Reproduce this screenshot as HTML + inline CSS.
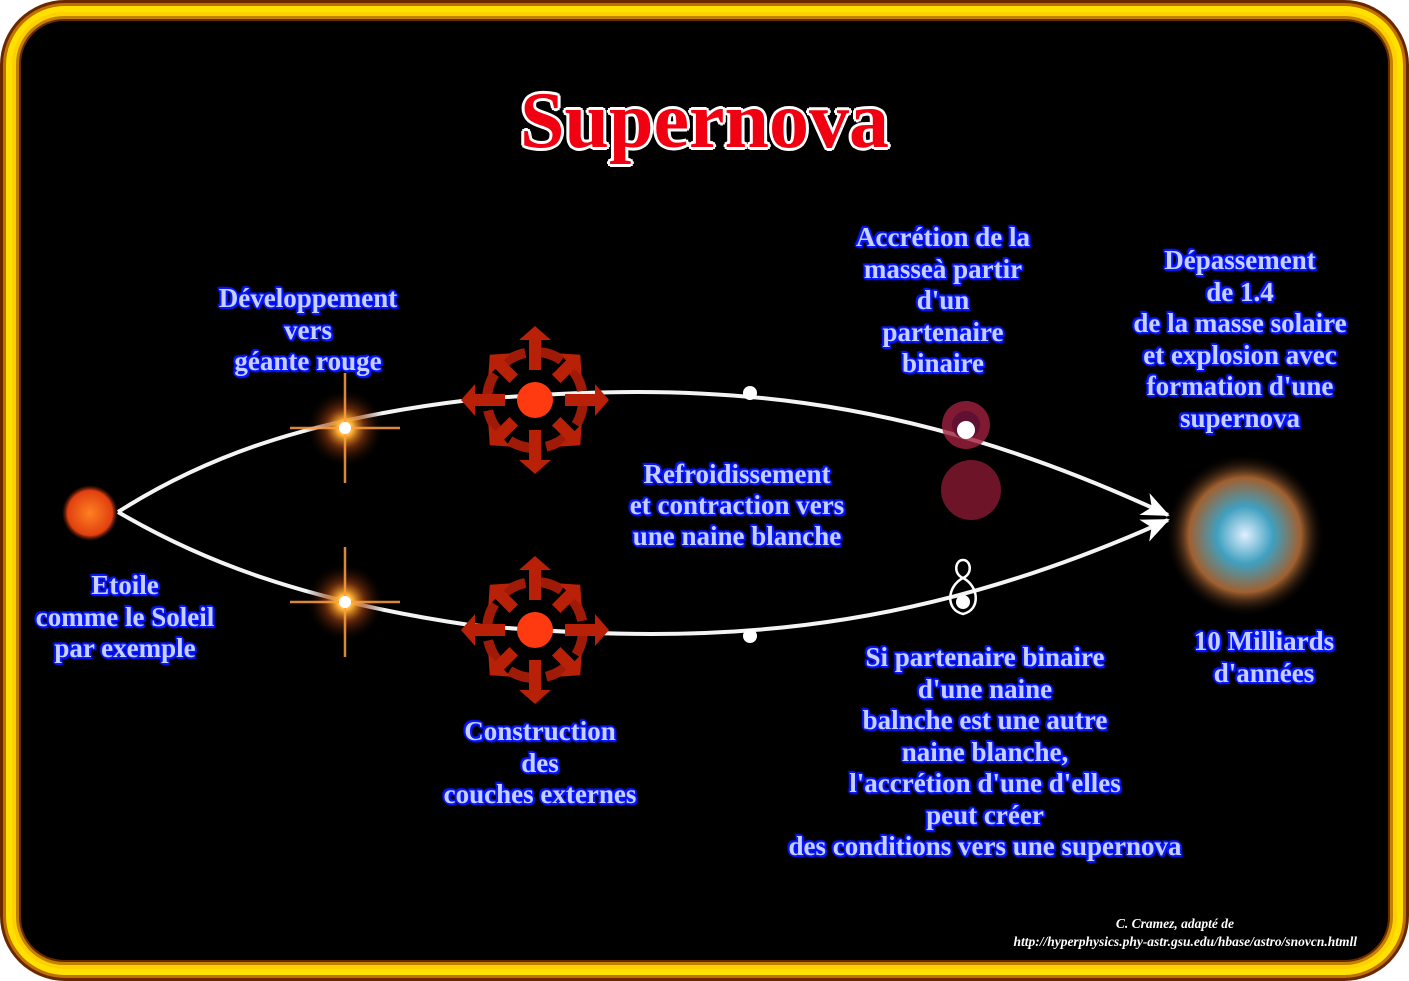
<!DOCTYPE html>
<html><head><meta charset="utf-8"><style>
html,body{margin:0;padding:0;background:#fff}
#w{position:relative;width:1409px;height:981px;overflow:hidden}
.t{position:absolute;font-family:"Liberation Serif",serif;font-weight:bold;font-size:27px;line-height:31.5px;text-align:center;color:#c8d0ff;white-space:nowrap;
text-shadow:0 0 2px #0818ff,1px 1px 0 #0818ff,-1px -1px 0 #0818ff,1px -1px 0 #0818ff,-1px 1px 0 #0818ff,2px 0 1px #0818ff,-2px 0 1px #0818ff,0 2px 1px #0818ff,0 -2px 1px #0818ff,2px 2px 1px #0818ff,-2px -2px 1px #0818ff}
</style></head><body><div id="w">
<svg width="1409" height="981" style="position:absolute;left:0;top:0">
<defs>
<radialGradient id="st" cx="50%" cy="50%" r="50%"><stop offset="0" stop-color="#fff"/><stop offset=".2" stop-color="#ffb030"/><stop offset=".5" stop-color="#a04010" stop-opacity=".6"/><stop offset="1" stop-color="#000" stop-opacity="0"/></radialGradient>
<radialGradient id="sun" cx="50%" cy="50%" r="50%"><stop offset="0" stop-color="#ff8020"/><stop offset=".8" stop-color="#e04010"/><stop offset="1" stop-color="#802000" stop-opacity="0"/></radialGradient>
<radialGradient id="neb" cx="50%" cy="50%" r="50%"><stop offset="0" stop-color="#e0f0ff"/><stop offset=".35" stop-color="#40a0c0"/><stop offset=".7" stop-color="#a06030"/><stop offset="1" stop-color="#000" stop-opacity="0"/></radialGradient>
<marker id="ar" markerWidth="30" markerHeight="30" refX="26" refY="12" orient="auto" markerUnits="userSpaceOnUse" viewBox="0 0 30 24"><path d="M0,0 L28,12 L0,24 L8,12z" fill="#fff"/></marker>
<g id="bl">
<circle r="18" fill="#ff3a10"/>
<circle r="48" fill="none" stroke="#a01a08" stroke-width="10" stroke-dasharray="26 12"/>
<g fill="#b82008">
<path d="M-6,-30 h12 v-30 h10 l-16,-14 l-16,14 h10z"/>
<path d="M-6,-30 h12 v-30 h10 l-16,-14 l-16,14 h10z" transform="rotate(90)"/>
<path d="M-6,-30 h12 v-30 h10 l-16,-14 l-16,14 h10z" transform="rotate(180)"/>
<path d="M-6,-30 h12 v-30 h10 l-16,-14 l-16,14 h10z" transform="rotate(270)"/>
<path d="M-6,-30 h12 v-20 h10 l-16,-14 l-16,14 h10z" transform="rotate(45)"/>
<path d="M-6,-30 h12 v-20 h10 l-16,-14 l-16,14 h10z" transform="rotate(135)"/>
<path d="M-6,-30 h12 v-20 h10 l-16,-14 l-16,14 h10z" transform="rotate(225)"/>
<path d="M-6,-30 h12 v-20 h10 l-16,-14 l-16,14 h10z" transform="rotate(315)"/>
</g></g>
<g id="rs"><circle r="40" fill="url(#st)"/><path d="M-55,0 L55,0 M0,-55 L0,55" stroke="#ffa040" stroke-width="2.5" opacity=".85"/><circle r="6" fill="#fff"/></g>
</defs>
<rect x="0" y="0" width="1409" height="981" rx="65" fill="#6a2800"/>
<rect x="3" y="3" width="1403" height="975" rx="62" fill="#c07000"/>
<rect x="6" y="6" width="1397" height="969" rx="59" fill="#ffe000"/>
<rect x="12" y="12" width="1385" height="957" rx="52" fill="#ffd000"/>
<rect x="16" y="16" width="1377" height="949" rx="48" fill="#c08000"/>
<rect x="19" y="19" width="1371" height="943" rx="45" fill="#6a2800"/>
<rect x="21" y="21" width="1367" height="939" rx="43" fill="#000"/>
<g fill="none" stroke="#f4f4f4" stroke-width="4">
<path d="M118,512 C200,460 300,420 470,400 C700,380 900,390 1168,515" marker-end="url(#ar)"/>
<path d="M118,512 C200,560 300,600 470,625 C700,645 900,640 1168,520" marker-end="url(#ar)"/>
</g>
<circle cx="90" cy="513" r="28" fill="url(#sun)"/>
<use href="#rs" x="345" y="428"/>
<use href="#rs" x="345" y="602"/>
<use href="#bl" x="535" y="400"/>
<use href="#bl" x="535" y="630"/>
<circle cx="750" cy="393" r="7" fill="#fff"/>
<circle cx="750" cy="636" r="7" fill="#fff"/>
<circle cx="966" cy="425" r="24" fill="#a02040" opacity=".8"/>
<circle cx="966" cy="425" r="14" fill="#601030"/>
<circle cx="971" cy="490" r="30" fill="#801830" opacity=".85"/>
<circle cx="966" cy="430" r="9" fill="#fff"/>
<path d="M963,560 c-8,0 -10,14 0,18 c10,-4 8,-18 0,-18z M963,578 c-16,8 -18,32 0,36 c18,-4 16,-28 0,-36z" fill="none" stroke="#fff" stroke-width="2.5"/>
<circle cx="963" cy="602" r="7" fill="#fff"/>
<ellipse cx="1245" cy="535" rx="80" ry="82" fill="url(#neb)"/>
</svg>
<div style="position:absolute;left:0;top:76px;width:1409px;text-align:center;font-family:'Liberation Serif',serif;font-weight:bold;font-size:80px;color:#f00010;text-shadow:2px 2px 0 #fff,-2px -2px 0 #fff,2px -2px 0 #fff,-2px 2px 0 #fff,0 3px 0 #fff,3px 0 0 #fff,-3px 0 0 #fff,0 -3px 0 #fff">Supernova</div>
<div class="t" style="left:208px;top:283px;width:200px">Développement<br>vers<br>géante rouge</div>
<div class="t" style="left:843px;top:222px;width:200px">Accrétion de la<br>masseà partir<br>d'un<br>partenaire<br>binaire</div>
<div class="t" style="left:1120px;top:245px;width:240px">Dépassement<br>de 1.4<br>de la masse solaire<br>et explosion avec<br>formation d'une<br>supernova</div>
<div class="t" style="left:607px;top:459px;width:260px;line-height:31px">Refroidissement<br>et contraction vers<br>une naine blanche</div>
<div class="t" style="left:20px;top:570px;width:210px">Etoile<br>comme le Soleil<br>par exemple</div>
<div class="t" style="left:1164px;top:626px;width:200px">10 Milliards<br>d'années</div>
<div class="t" style="left:430px;top:716px;width:220px">Construction<br>des<br>couches externes</div>
<div class="t" style="left:770px;top:642px;width:430px">Si partenaire binaire<br>d'une naine<br>balnche est une autre<br>naine blanche,<br>l'accrétion d'une d'elles<br>peut créer<br>des conditions vers une supernova</div>
<div style="position:absolute;left:900px;top:915px;width:457px;text-align:right;font-family:'Liberation Serif',serif;font-style:italic;font-weight:bold;font-size:13.5px;line-height:18px;color:#fff"><span style="margin-right:123px">C. Cramez, adapté de</span><br>http://hyperphysics.phy-astr.gsu.edu/hbase/astro/snovcn.htmll</div>
</div></body></html>
